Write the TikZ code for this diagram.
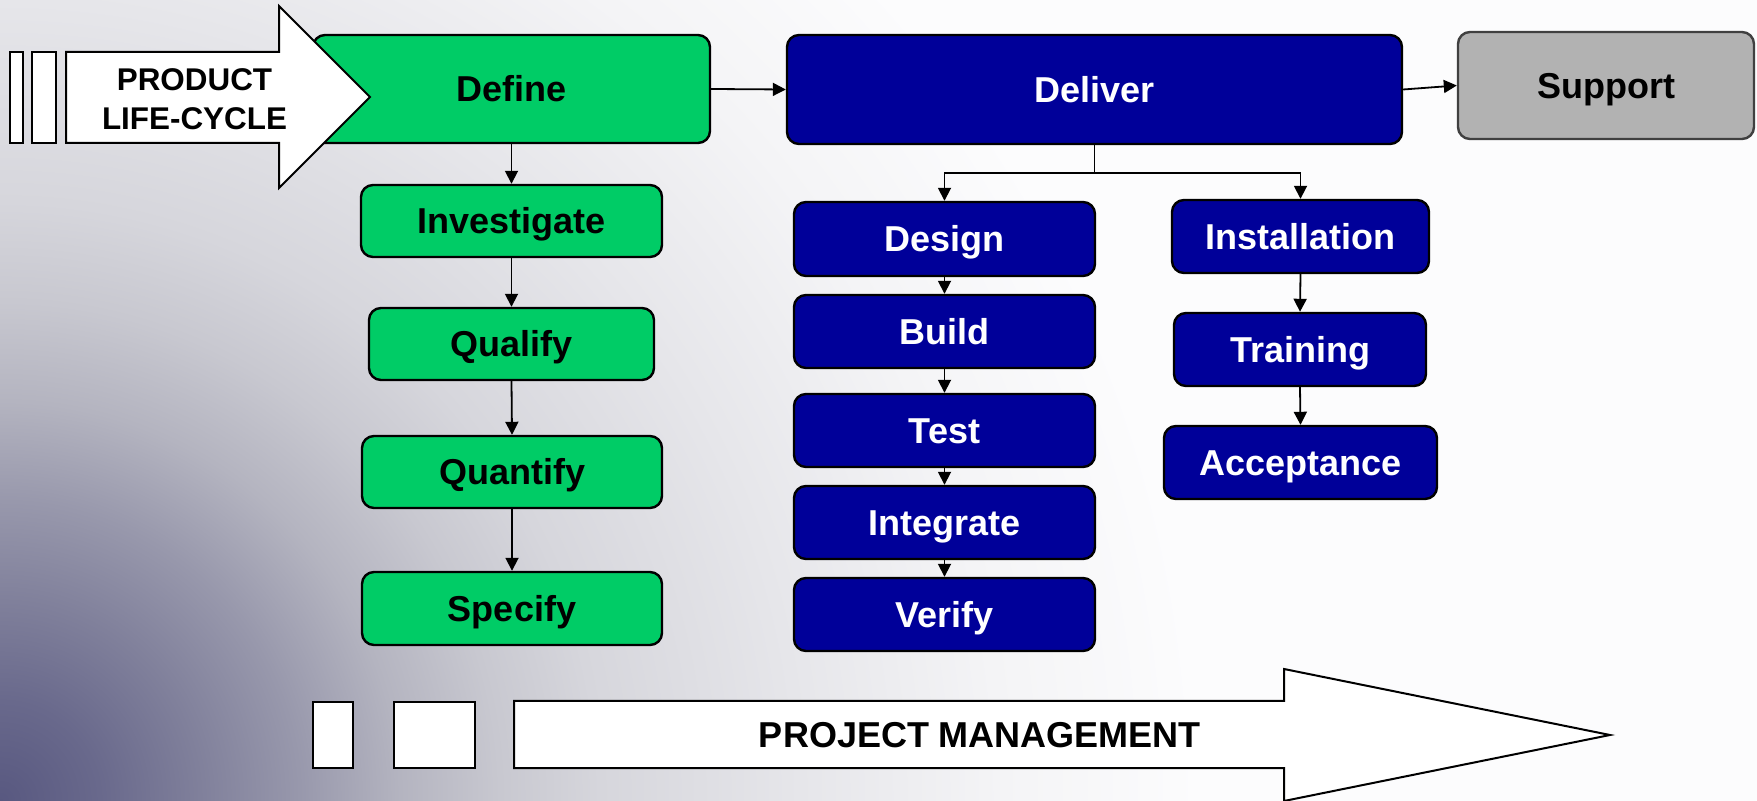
\documentclass[tikz,border=0pt]{standalone}
\usepackage{fontspec}
\setmainfont{Liberation Sans}
\usetikzlibrary{arrows.meta,calc}
\definecolor{grn}{RGB}{0,204,102}
\definecolor{blu}{RGB}{0,0,153}
\definecolor{sup}{RGB}{178,178,178}
\definecolor{bga}{RGB}{88,88,128}
\definecolor{bgb}{RGB}{105,105,140}
\definecolor{bgc}{RGB}{128,128,155}
\definecolor{bgd}{RGB}{152,152,172}
\definecolor{bge}{RGB}{180,180,192}
\definecolor{bgf}{RGB}{200,200,208}
\definecolor{bgg}{RGB}{214,214,220}
\definecolor{bgh}{RGB}{230,230,234}
\definecolor{bgi}{RGB}{244,244,246}
\definecolor{bgj}{RGB}{252,252,253}
\pgfdeclareradialshading{bgsh}{\pgfpoint{0bp}{0bp}}{color(0bp)=(bga); color(2.083bp)=(bgb); color(4.167bp)=(bgc); color(6.25bp)=(bgd); color(8.333bp)=(bge); color(10.417bp)=(bgf); color(12.5bp)=(bgg); color(16.667bp)=(bgh); color(20.833bp)=(bgi); color(25bp)=(bgj); color(50bp)=(bgj)}
\newcommand\bx[7]{\node[#6, minimum width={(#4-#2)*0.5pt}, minimum height={(#5-#3)*0.5pt}] (#1) at ({(#2+#4)/2},{(#3+#5)/2}) {#7};}
\tikzset{
  nbox/.style={draw=black, line width=1.2pt, rounded corners=6pt, inner sep=0pt,
    font=\fontsize{18}{21}\selectfont\bfseries, text height=12.9pt, text depth=0pt},
  gbox/.style={nbox, fill=grn, text=black},
  bbox/.style={nbox, fill=blu, text=white},
  sbox/.style={nbox, fill=sup, draw=black!75, text=black},
  con/.style={line width=0.9pt, -{Triangle[length=6.5pt,width=6.5pt]}},
  bigarrow/.style={draw=black, fill=white, line width=1pt},
  bar/.style={draw=black, fill=white, line width=1pt},
  plclbl/.style={inner sep=0pt, font=\fontsize{15.7}{19}\selectfont\bfseries, text height=11.24pt, text depth=0pt},
  pmlbl/.style={inner sep=0pt, font=\fontsize{18}{21}\selectfont\bfseries, text height=12.9pt, text depth=0pt}
}
\begin{document}
\begin{tikzpicture}[x=0.5pt,y=-0.5pt]
\useasboundingbox (0,0) rectangle (1757,801);
\fill[bgj] (0,0) rectangle (1757,801);
\begin{scope}
  \clip (0,0) rectangle (1757,801);
  \shade[shading=bgsh] (0,801) circle (1200);
\end{scope}

% Define phase
\bx{define}{313}{35}{710}{143}{gbox}{Define}
\bx{investigate}{361}{185}{662}{257}{gbox}{Investigate}
\bx{qualify}{369}{308}{654}{380}{gbox}{Qualify}
\bx{quantify}{362}{436}{662}{508}{gbox}{Quantify}
\bx{specify}{362}{572}{662}{645}{gbox}{Specify}

% product life-cycle arrow
\draw[bar] (10,52) rectangle (23,143);
\draw[bar] (32,52) rectangle (56,143);
\draw[bigarrow] (66,52) -- (279,52) -- (279,6) -- (370,97) -- (279,188) -- (279,143) -- (66,143) -- cycle;
\node[plclbl] (plc1) at (194.5,79.5) {PRODUCT};
\node[plclbl] (plc2) at (194.5,118) {LIFE-CYCLE};

% Deliver phase
\bx{deliver}{787}{35}{1402}{144}{bbox}{Deliver}
\bx{support}{1458}{32}{1754}{139}{sbox}{Support}
\bx{design}{794}{202}{1095}{276}{bbox}{Design}
\bx{build}{794}{295}{1095}{368}{bbox}{Build}
\bx{test}{794}{394}{1095}{467}{bbox}{Test}
\bx{integrate}{794}{486}{1095}{559}{bbox}{Integrate}
\bx{verify}{794}{578}{1095}{651}{bbox}{Verify}
\bx{install}{1172}{200}{1429}{273}{bbox}{Installation}
\bx{training}{1174}{313}{1426}{386}{bbox}{Training}
\bx{accept}{1164}{426}{1437}{499}{bbox}{Acceptance}

% connectors
\draw[con] (define.east) -- (deliver.west);
\draw[con] (deliver.east) -- (support.west);
\draw[con] (define.south) -- (investigate.north);
\draw[con] (investigate.south) -- (qualify.north);
\draw[con] (qualify.south) -- (quantify.north);
\draw[con] (quantify.south) -- (specify.north);
\coordinate (branch) at ($(deliver.south)+(0,28)$);
\draw[con] (deliver.south) -- (branch) -| (design.north);
\draw[con] (branch) -| (install.north);
\draw[con] (design.south) -- (build.north);
\draw[con] (build.south) -- (test.north);
\draw[con] (test.south) -- (integrate.north);
\draw[con] (integrate.south) -- (verify.north);
\draw[con] (install.south) -- (training.north);
\draw[con] (training.south) -- (accept.north);

% project management arrow
\draw[bar] (313,702) rectangle (353,768);
\draw[bar] (394,702) rectangle (475,768);
\draw[bigarrow] (514,701) -- (1284,701) -- (1284,669) -- (1610,735) -- (1284,801) -- (1284,768) -- (514,768) -- cycle;
\node[pmlbl] (pm) at (980,735) {PROJECT MANAGEMENT};
\end{tikzpicture}
\end{document}
